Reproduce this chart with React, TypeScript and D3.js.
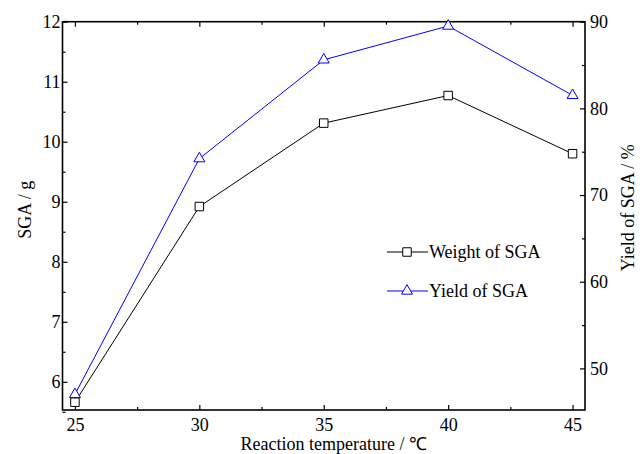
import React, { useEffect, useRef } from "react";
import * as d3 from "d3";

// Reaction temperature (°C)
const temperatures = [25, 30, 35, 40, 45];
// Weight of SGA (g)
const weightValues = [5.66, 8.92, 10.31, 10.77, 9.8];
// Yield of SGA (%)
const yieldValues = [47.0, 74.2, 85.6, 89.5, 81.5];

const xTicks = [25, 30, 35, 40, 45];
const xMinorTicks = [27.5, 32.5, 37.5, 42.5];
const leftTicks = [6, 7, 8, 9, 10, 11, 12];
const leftMinorTicks = [5.5, 6.5, 7.5, 8.5, 9.5, 10.5, 11.5];
const rightTicks = [50, 60, 70, 80, 90];
const rightMinorTicks = [55, 65, 75, 85];

const App = () => {
  const ref = useRef<SVGSVGElement | null>(null);

  useEffect(() => {
    const width = 640,
      height = 454;
    const left = 62.5,
      right = 585,
      top = 21.7,
      bottom = 410;
    const font = "'Liberation Serif', 'Times New Roman', serif";

    const svg = d3.select(ref.current);
    svg.selectAll("*").remove();
    svg.attr("width", width).attr("height", height);

    const x = d3.scaleLinear().domain([24.5, 45.5]).range([left, right]);
    const yL = d3.scaleLinear().domain([5.53, 12]).range([bottom, top]);
    const yR = d3.scaleLinear().domain([45.2, 90]).range([bottom, top]);

    const styleAxis = (g, size = 18) => {
      g.select(".domain").remove();
      g.selectAll(".tick line").attr("stroke", "#000").attr("stroke-width", 1.2);
      g.selectAll("text").attr("fill", "#000").style("font-family", font).style("font-size", size + "px");
    };

    // bottom axis
    svg
      .append("g")
      .attr("transform", `translate(0,${bottom})`)
      .call(d3.axisBottom(x).tickValues(xTicks).tickSize(-5).tickPadding(8).tickFormat(d3.format("d")))
      .call(styleAxis);
    svg
      .append("g")
      .attr("transform", `translate(0,${bottom})`)
      .call(d3.axisBottom(x).tickValues(xMinorTicks).tickSize(-3).tickFormat(() => ""))
      .call(styleAxis);
    // top ticks
    svg
      .append("g")
      .attr("transform", `translate(0,${top})`)
      .call(d3.axisTop(x).tickValues(xTicks).tickSize(-5).tickFormat(() => ""))
      .call(styleAxis);
    svg
      .append("g")
      .attr("transform", `translate(0,${top})`)
      .call(d3.axisTop(x).tickValues(xMinorTicks).tickSize(-3).tickFormat(() => ""))
      .call(styleAxis);

    // left axis
    svg
      .append("g")
      .attr("transform", `translate(${left},0)`)
      .call(d3.axisLeft(yL).tickValues(leftTicks).tickSize(-5).tickPadding(2).tickFormat(d3.format("d")))
      .call(styleAxis);
    svg
      .append("g")
      .attr("transform", `translate(${left},0)`)
      .call(d3.axisLeft(yL).tickValues(leftMinorTicks).tickSize(-3).tickFormat(() => ""))
      .call(styleAxis);

    // right axis
    svg
      .append("g")
      .attr("transform", `translate(${right},0)`)
      .call(d3.axisRight(yR).tickValues(rightTicks).tickSize(-5).tickPadding(5).tickFormat(d3.format("d")))
      .call(styleAxis);
    svg
      .append("g")
      .attr("transform", `translate(${right},0)`)
      .call(d3.axisRight(yR).tickValues(rightMinorTicks).tickSize(-3).tickFormat(() => ""))
      .call(styleAxis);

    // frame
    svg
      .append("rect")
      .attr("x", left)
      .attr("y", top)
      .attr("width", right - left)
      .attr("height", bottom - top)
      .attr("fill", "none")
      .attr("stroke", "#000")
      .attr("stroke-width", 1.6);

    // lines
    const weightLine = d3
      .line<number>()
      .x((d, i) => x(temperatures[i]))
      .y((d) => yL(d));
    const yieldLine = d3
      .line<number>()
      .x((d, i) => x(temperatures[i]))
      .y((d) => yR(d));

    svg
      .append("path")
      .attr("d", weightLine(weightValues))
      .attr("fill", "none")
      .attr("stroke", "#000")
      .attr("stroke-width", 1);
    svg
      .append("path")
      .attr("d", yieldLine(yieldValues))
      .attr("fill", "none")
      .attr("stroke", "#0000ff")
      .attr("stroke-width", 1);

    const square = d3.symbol().type(d3.symbolSquare).size(72);
    const triangle = d3.symbol().type(d3.symbolTriangle).size(52);

    svg
      .selectAll("path.sq")
      .data(weightValues)
      .enter()
      .append("path")
      .attr("class", "sq")
      .attr("d", square)
      .attr("transform", (d, i) => `translate(${x(temperatures[i])},${yL(d)})`)
      .attr("fill", "#fff")
      .attr("stroke", "#000")
      .attr("stroke-width", 1);

    svg
      .selectAll("path.tri")
      .data(yieldValues)
      .enter()
      .append("path")
      .attr("class", "tri")
      .attr("d", triangle)
      .attr("transform", (d, i) => `translate(${x(temperatures[i])},${yR(d)})`)
      .attr("fill", "#fff")
      .attr("stroke", "#0000ff")
      .attr("stroke-width", 1);

    // axis titles
    svg
      .append("text")
      .attr("x", (left + right) / 2 + 10)
      .attr("y", 450)
      .attr("text-anchor", "middle")
      .style("font-family", font)
      .style("font-size", "18px")
      .text("Reaction temperature / ℃");
    svg
      .append("text")
      .attr("transform", `translate(31,${(top + bottom) / 2 - 6}) rotate(-90)`)
      .attr("text-anchor", "middle")
      .style("font-family", font)
      .style("font-size", "18px")
      .text("SGA / g");
    svg
      .append("text")
      .attr("transform", `translate(634,${(top + bottom) / 2 - 8}) rotate(-90)`)
      .attr("text-anchor", "middle")
      .style("font-family", font)
      .style("font-size", "18px")
      .text("Yield of SGA / %");

    // legend
    const legend = [
      { label: "Weight of SGA", color: "#000", symbol: square, y: 252 },
      { label: "Yield of SGA", color: "#0000ff", symbol: triangle, y: 291 },
    ];
    legend.forEach((item) => {
      svg
        .append("line")
        .attr("x1", 387)
        .attr("x2", 428)
        .attr("y1", item.y)
        .attr("y2", item.y)
        .attr("stroke", item.color)
        .attr("stroke-width", 1);
      svg
        .append("path")
        .attr("d", item.symbol())
        .attr("transform", `translate(407,${item.y})`)
        .attr("fill", "#fff")
        .attr("stroke", item.color)
        .attr("stroke-width", 1);
      svg
        .append("text")
        .attr("x", 429)
        .attr("y", item.y + 6)
        .style("font-family", font)
        .style("font-size", "18px")
        .text(item.label);
    });
  }, []);

  return <svg ref={ref} style={{ position: "absolute", left: 0, top: 0 }}></svg>;
};

export default App;
